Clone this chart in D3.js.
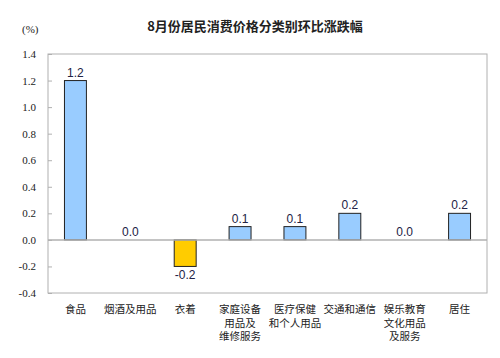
<!DOCTYPE html>
<html><head><meta charset="utf-8">
<script src="https://cdn.jsdelivr.net/npm/d3@7"></script>
<style>body{margin:0;background:#fff}</style>
</head><body>
<svg id="c" width="500" height="358"></svg>
<script>
const categories = [["食品"],["烟酒及用品"],["衣着"],["家庭设备","用品及","维修服务"],["医疗保健","和个人用品"],["交通和通信"],["娱乐教育","文化用品","及服务"],["居住"]];
const values = [1.2, 0.0, -0.2, 0.1, 0.1, 0.2, 0.0, 0.2];
const valueLabels = ["1.2","0.0","-0.2","0.1","0.1","0.2","0.0","0.2"];
const yTicks = [-0.4,-0.2,0,0.2,0.4,0.6,0.8,1.0,1.2,1.4];
const title = "8月份居民消费价格分类别环比涨跌幅";
const unit = "(%)";

const svg = d3.select("#c");
const L=48,R=487,T=54,B=293;
const x = d3.scaleBand().domain(d3.range(values.length)).range([L,R]).paddingInner(0.6).paddingOuter(0.3);
const y = d3.scaleLinear().domain([-0.4,1.4]).range([B,T]);

svg.append("text").attr("x",255).attr("y",31).attr("text-anchor","middle")
  .attr("font-family","Noto Sans CJK SC").attr("font-weight","bold").attr("font-size",13).attr("fill","#222").text(title);
svg.append("text").attr("x",22).attr("y",33).attr("text-anchor","start")
  .attr("font-family","Liberation Serif").attr("font-size",11).attr("fill","#222").text(unit);

svg.append("rect").attr("x",L).attr("y",T).attr("width",R-L).attr("height",B-T)
  .attr("fill","none").attr("stroke","#b0b0b0").attr("stroke-width",1);

const yAxis = svg.append("g").attr("transform",`translate(${L},0)`)
  .call(d3.axisLeft(y).tickValues(yTicks).tickFormat(d3.format(".1f")).tickSize(-4).tickPadding(12));
yAxis.select(".domain").remove();
yAxis.selectAll("line").attr("stroke","#b0b0b0");
yAxis.selectAll("text").attr("font-family","Liberation Serif").attr("font-size",11).attr("fill","#222")
  .text(d=>d3.format(".1f")(d).replace("−","-"));

svg.selectAll(".bar").data(values).join("rect")
  .attr("x",(d,i)=>x(i)).attr("width",x.bandwidth())
  .attr("y",d=>y(Math.max(0,d))).attr("height",d=>Math.abs(y(d)-y(0)))
  .attr("fill",d=>d<0?"#FFCC00":"#99CCFF").attr("stroke","#222").attr("stroke-width",1);

svg.append("line").attr("x1",L).attr("x2",R).attr("y1",y(0)).attr("y2",y(0)).attr("stroke","#b0b0b0").attr("stroke-width",1.5);

svg.selectAll(".vl").data(values).join("text")
  .attr("x",(d,i)=>x(i)+x.bandwidth()/2)
  .attr("y",d=>d<0?y(d)+13:y(d)-4)
  .attr("text-anchor","middle").attr("font-family","Liberation Sans").attr("font-size",12).attr("fill","#222244")
  .text((d,i)=>valueLabels[i]);

const cl = svg.selectAll(".cl").data(categories).join("text")
  .attr("text-anchor","middle").attr("font-family","Noto Sans CJK SC").attr("font-size",10.5).attr("fill","#222");
cl.each(function(lines,i){
  const t=d3.select(this);
  lines.forEach((s,j)=>t.append("tspan").attr("x",x(i)+x.bandwidth()/2).attr("y",313+j*13.5).text(s));
});
</script>
</body></html>
